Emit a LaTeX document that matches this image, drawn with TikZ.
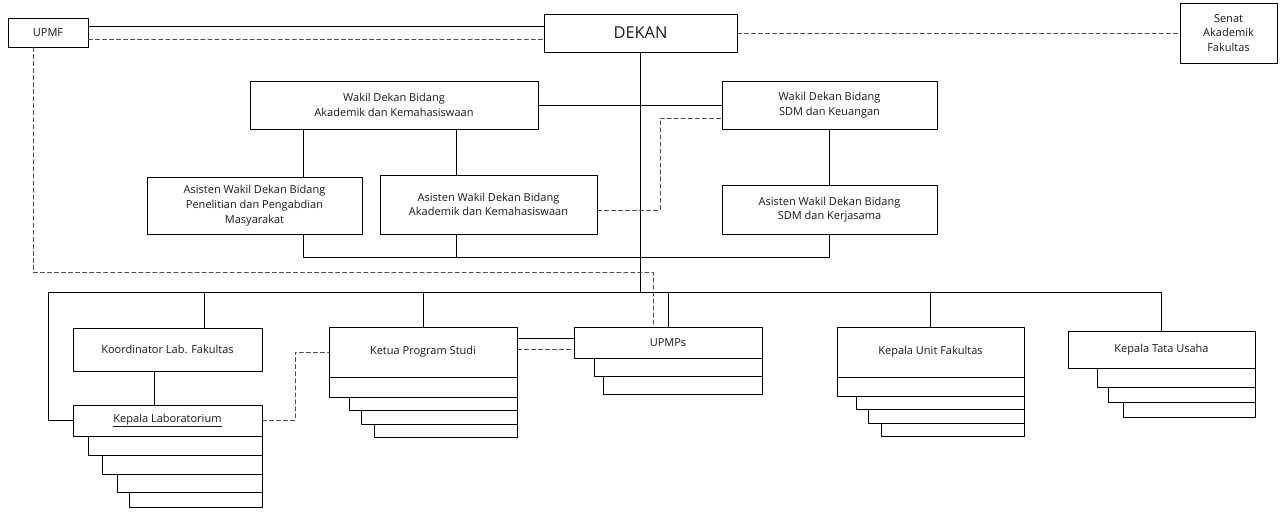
\documentclass[tikz,border=0pt]{standalone}
\usepackage{fontspec}
\setmainfont{Open Sans}
\usetikzlibrary{fit}

\begin{document}
\begin{tikzpicture}[line cap=round,line join=round,x=0.03cm,y=-0.03cm,
  box/.style={draw,fill=white,inner sep=0pt},
  every label/.style={align=center,inner sep=0pt,text=black!90,
    font=\fontsize{9.4}{12.5}\selectfont},
  dashline/.style={black!70,dash pattern=on 3.5pt off 2.5pt},
  every path/.style={line width=0.7pt}]
\useasboundingbox (0,0) rectangle (1280,530);
% boxes
\node[box,fit={(8,18) (88,47)},label=center:UPMF] (upmf) {};
\node[box,fit={(544,14) (737,52)},
  label={[font=\fontsize{14}{16}\selectfont]center:DEKAN}] (dekan) {};
\node[box,fit={(1180,3) (1277,63)},label={center:Senat\\Akademik\\Fakultas}] (senat) {};
\node[box,fit={(250,81) (538,129)},
  label={center:Wakil Dekan Bidang\\Akademik dan Kemahasiswaan}] (wdak) {};
\node[box,fit={(722,81) (937,129)},
  label={center:Wakil Dekan Bidang\\SDM dan Keuangan}] (wdsdm) {};
\node[box,fit={(147,177) (362,234)},
  label={center:Asisten Wakil Dekan Bidang\\Penelitian dan Pengabdian\\Masyarakat}] (asppm) {};
\node[box,fit={(380,175) (597,234)},
  label={center:Asisten Wakil Dekan Bidang\\Akademik dan Kemahasiswaan}] (asak) {};
\node[box,fit={(722,185) (937,234)},
  label={center:Asisten Wakil Dekan Bidang\\SDM dan Kerjasama}] (assdm) {};
\node[box,fit={(73,328) (262,371)},label=center:Koordinator Lab. Fakultas] (koord) {};
\node[box,fit={(73,405) (262,436)},label=center:\underline{Kepala Laboratorium}] (lab) {};
\node[box,fit={(329,327) (517,377)},label=center:Ketua Program Studi] (ketua) {};
\node[box,fit={(574,327) (762,358)},label=center:UPMPs] (upmps) {};
\node[box,fit={(837,327) (1024,377)},label=center:Kepala Unit Fakultas] (kunit) {};
\node[box,fit={(1068,331) (1255,368)},label=center:Kepala Tata Usaha] (ktu) {};
%
\draw (88,436) rectangle (262,455);
\draw (102,455) rectangle (262,474);
\draw (117,474) rectangle (262,492);
\draw (129,492) rectangle (262,507);
\draw (329,377) rectangle (517,397);
\draw (349,397) rectangle (517,410);
\draw (361,410) rectangle (517,424);
\draw (374,424) rectangle (517,437);
\draw (594,358) rectangle (762,376);
\draw (603,376) rectangle (762,394);
\draw (837,377) rectangle (1024,396);
\draw (856,396) rectangle (1024,409);
\draw (868,409) rectangle (1024,423);
\draw (881,423) rectangle (1024,436);
\draw (1097,368) rectangle (1255,387);
\draw (1108,387) rectangle (1255,402);
\draw (1123,402) rectangle (1255,417);
% junctions
\coordinate (t1) at (0,26);
\coordinate (t2) at (0,39);
\coordinate (b1) at (303,257);
\coordinate (b2) at (456,257);
\coordinate (k1) at (660,210);
\coordinate (k2) at (660,118);
\coordinate (busl) at (48,292);
\coordinate (busd) at (640,292);
\coordinate (kx) at (204,0);
\coordinate (lx) at (154,0);
\coordinate (mx) at (295,0);
\coordinate (u1) at (33,272);
\coordinate (u2) at (653,272);
\coordinate (s1) at (0,338);
\coordinate (s2) at (0,349);
% connectors
\draw (upmf.east |- t1) -- (dekan.west |- t1);
\draw[dashline] (upmf.east |- t2) -- (dekan.west |- t2);
\draw[dashline] (dekan.east) -- (senat.west);
\draw (dekan.south -| busd) -- (busd);
\draw (wdak.east) -- (wdsdm.west);
\draw (wdak.south -| b1) -- (asppm.north -| b1);
\draw (wdak.south -| b2) -- (asak.north -| b2);
\draw (wdsdm.south) -- (assdm.north);
\draw (asppm.south -| b1) -- (b1) -- (assdm.south |- b1) -- (assdm.south);
\draw (asak.south -| b2) -- (b2);
\draw[dashline] (asak.east |- k1) -- (k1) -- (k2) -- (wdsdm.west |- k2);
\draw (lab.west) -- (lab.west -| busl) -- (busl) -- (ktu.north |- busl) -- (ktu.north);
\draw (koord.north -| kx) -- (busl -| kx);
\draw (koord.south -| lx) -- (lab.north -| lx);
\draw (ketua.north) -- (ketua.north |- busl);
\draw (upmps.north) -- (upmps.north |- busl);
\draw (kunit.north) -- (kunit.north |- busl);
\draw (ketua.east |- s1) -- (upmps.west |- s1);
\draw[dashline] (ketua.east |- s2) -- (upmps.west |- s2);
\draw[dashline] (lab.east) -- (lab.east -| mx) -- (ketua.west -| mx) -- (ketua.west);
\draw[dashline] (upmf.south -| u1) -- (u1) -- (u2) -- (upmps.north -| u2);
\end{tikzpicture}
\end{document}
